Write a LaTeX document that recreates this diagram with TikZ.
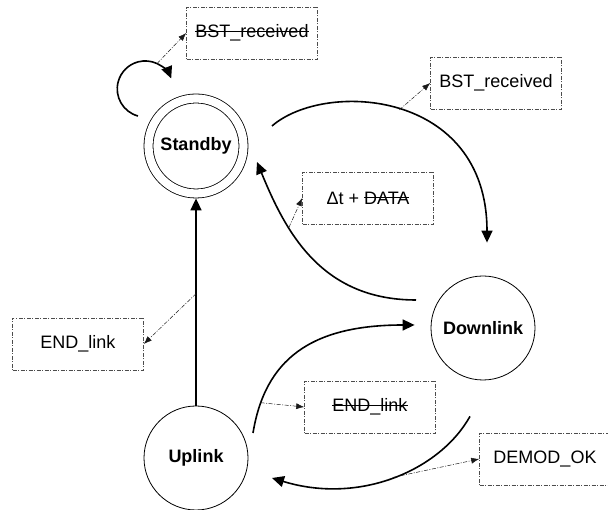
\documentclass[tikz,border=0pt]{standalone}
\usepackage{fontspec}
\setmainfont{Liberation Sans}
\usetikzlibrary{positioning, arrows.meta, calc}

\newcommand{\strk}[1]{\setbox0\hbox{#1}\rlap{\rule[0.33em]{\wd0}{0.065em}}\box0}

\begin{document}
\begin{tikzpicture}[x=1pt, y=1pt,
    state/.style={circle, draw, line width=0.8pt, minimum size=104pt, font=\fontsize{18}{21}\selectfont\bfseries},
    idle/.style={state, double, double distance=8.2pt, minimum size=95pt, outer sep=4.9pt},
    event/.style={draw=black!70, line width=0.6pt, dash pattern=on 4pt off 1.5pt on 1pt off 1.5pt, minimum width=131pt, minimum height=52pt, font=\fontsize{18}{21}\selectfont},
    trans/.style={line width=1.6pt, -{Triangle[length=12pt, width=11pt]}},
    tag/.style={draw=black!90, line width=0.5pt, dash pattern=on 4pt off 1.5pt on 1pt off 1.5pt, -{Latex[length=8pt, width=6pt]}}]
  \useasboundingbox (0,0) rectangle (608,510);

  % states
  \node[idle]  (sb) at (196,364) {Standby};
  \node[state] (dl) at (483,182) {Downlink};
  \node[state] (up) at (196,52)  {Uplink};

  % events
  \node[event] (bstloop) at (252,477) {\strk{BST\_received}};
  \node[event] (bstdown) at (496,427) {BST\_received};
  \node[event] (dtdata)  at (368,312) {Δt + \strk{DATA}};
  \node[event] (endup)   at (78,166)  {END\_link};
  \node[event] (endlink) at (370,103) {\strk{END\_link}};
  \node[event] (demod)   at (545,51)  {DEMOD\_OK};

  % transitions
  \draw[trans] ($(sb)+(-58,30)$) arc[start angle=255, end angle=65, radius=28] coordinate (pa)
    arc[start angle=65, end angle=22, radius=28];
  \draw[trans] ($(sb)+(76,20)$) .. controls (325,430) and (487,420) .. ($(dl.north)+(4,33)$) coordinate[pos=0.5] (pb);
  \draw[trans] ($(dl)+(-67,28)$) .. controls (320,210) and (285,280) .. ($(sb)+(61,-16)$) coordinate[pos=0.67] (pc);
  \draw[trans] (up) -- (sb) coordinate[pos=0.54] (pd);
  \draw[trans] ($(up)+(57,25)$) .. controls (265,150) and (310,185) .. ($(dl.west)+(-16,3)$) coordinate[pos=0.15] (pe);
  \draw[trans] ($(dl.south)+(-13,-36)$) .. controls (440,40) and (360,5) .. ($(up)+(76,-20)$) coordinate[pos=0.5] (pf);

  % event links
  \draw[tag] (pa) -- (bstloop.west);
  \draw[tag] (pb) -- (bstdown.west);
  \draw[tag] (pc) -- (dtdata.west);
  \draw[tag] (pd) -- (endup.east);
  \draw[tag] (pe) -- (endlink.west);
  \draw[tag] (pf) -- (demod.west);
\end{tikzpicture}
\end{document}
